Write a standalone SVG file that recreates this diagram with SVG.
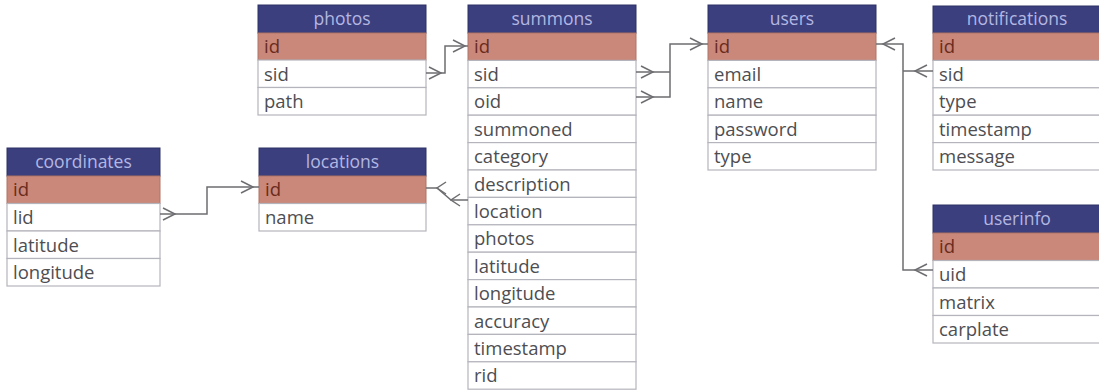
<svg xmlns="http://www.w3.org/2000/svg" width="1099" height="391" viewBox="0 0 1099 391">
<style>
.hd{fill:#3b3f7e;stroke:#2e3266;stroke-width:1}
.pk{fill:#c9887a;stroke:#b07466;stroke-width:1}
.rw{fill:#ffffff;stroke:#b4b4bc;stroke-width:1.2}
.ht{font-family:"Open Sans","Noto Sans",sans-serif;font-size:17.5px;fill:#b3b7e2;text-anchor:middle}
.pt{font-family:"Open Sans","Noto Sans",sans-serif;font-size:18.5px;fill:#6b2c20}
.ft{font-family:"Open Sans","Noto Sans",sans-serif;font-size:18.5px;fill:#4e4e52}
.cn{fill:none;stroke:#6e6e72;stroke-width:1.5}
</style>
<rect width="1099" height="391" fill="#ffffff"/>

<g id="photos">
<rect class="hd" x="258" y="5" width="168" height="28"/>
<text class="ht" x="342" y="25">photos</text>
<rect class="pk" x="258" y="33" width="168" height="27"/>
<text class="pt" x="264" y="53">id</text>
<rect class="rw" x="258" y="60" width="168" height="27.5"/>
<text class="ft" x="264" y="80.5">sid</text>
<rect class="rw" x="258" y="87.5" width="168" height="27.5"/>
<text class="ft" x="264" y="108">path</text>
</g>

<g id="summons">
<rect class="hd" x="468" y="5" width="168" height="28"/>
<text class="ht" x="552" y="25">summons</text>
<rect class="pk" x="468" y="33" width="168" height="27.4"/>
<text class="pt" x="474" y="53">id</text>
<rect class="rw" x="468" y="60.4" width="168" height="27.4"/>
<text class="ft" x="474" y="80.9">sid</text>
<rect class="rw" x="468" y="87.8" width="168" height="27.4"/>
<text class="ft" x="474" y="108.3">oid</text>
<rect class="rw" x="468" y="115.2" width="168" height="27.4"/>
<text class="ft" x="474" y="135.7">summoned</text>
<rect class="rw" x="468" y="142.6" width="168" height="27.4"/>
<text class="ft" x="474" y="163.1">category</text>
<rect class="rw" x="468" y="170" width="168" height="27.4"/>
<text class="ft" x="474" y="190.5">description</text>
<rect class="rw" x="468" y="197.4" width="168" height="27.4"/>
<text class="ft" x="474" y="217.9">location</text>
<rect class="rw" x="468" y="224.8" width="168" height="27.4"/>
<text class="ft" x="474" y="245.3">photos</text>
<rect class="rw" x="468" y="252.2" width="168" height="27.4"/>
<text class="ft" x="474" y="272.7">latitude</text>
<rect class="rw" x="468" y="279.6" width="168" height="27.4"/>
<text class="ft" x="474" y="300.1">longitude</text>
<rect class="rw" x="468" y="307" width="168" height="27.4"/>
<text class="ft" x="474" y="327.5">accuracy</text>
<rect class="rw" x="468" y="334.4" width="168" height="27.4"/>
<text class="ft" x="474" y="354.9">timestamp</text>
<rect class="rw" x="468" y="361.8" width="168" height="27.4"/>
<text class="ft" x="474" y="382.3">rid</text>
</g>

<g id="users">
<rect class="hd" x="708" y="5" width="168" height="28"/>
<text class="ht" x="792" y="25">users</text>
<rect class="pk" x="708" y="33" width="168" height="27.4"/>
<text class="pt" x="714" y="53">id</text>
<rect class="rw" x="708" y="60.4" width="168" height="27.4"/>
<text class="ft" x="714" y="80.9">email</text>
<rect class="rw" x="708" y="87.8" width="168" height="27.4"/>
<text class="ft" x="714" y="108.3">name</text>
<rect class="rw" x="708" y="115.2" width="168" height="27.4"/>
<text class="ft" x="714" y="135.7">password</text>
<rect class="rw" x="708" y="142.6" width="168" height="27.4"/>
<text class="ft" x="714" y="163.1">type</text>
</g>

<g id="notifications">
<rect class="hd" x="933" y="6" width="168" height="27"/>
<text class="ht" x="1017" y="25">notifications</text>
<rect class="pk" x="933" y="33" width="168" height="27.4"/>
<text class="pt" x="939" y="53">id</text>
<rect class="rw" x="933" y="60.4" width="168" height="27.4"/>
<text class="ft" x="939" y="80.9">sid</text>
<rect class="rw" x="933" y="87.8" width="168" height="27.4"/>
<text class="ft" x="939" y="108.3">type</text>
<rect class="rw" x="933" y="115.2" width="168" height="27.4"/>
<text class="ft" x="939" y="135.7">timestamp</text>
<rect class="rw" x="933" y="142.6" width="168" height="27.4"/>
<text class="ft" x="939" y="163.1">message</text>
</g>

<g id="coordinates">
<rect class="hd" x="7" y="148" width="153" height="28"/>
<text class="ht" x="83.5" y="168">coordinates</text>
<rect class="pk" x="7" y="176" width="153" height="27.5"/>
<text class="pt" x="13" y="196">id</text>
<rect class="rw" x="7" y="203.5" width="153" height="27.5"/>
<text class="ft" x="13" y="224">lid</text>
<rect class="rw" x="7" y="231" width="153" height="27.5"/>
<text class="ft" x="13" y="251.5">latitude</text>
<rect class="rw" x="7" y="258.5" width="153" height="27.5"/>
<text class="ft" x="13" y="279">longitude</text>
</g>

<g id="locations">
<rect class="hd" x="259" y="148" width="167" height="28"/>
<text class="ht" x="342.5" y="168">locations</text>
<rect class="pk" x="259" y="176" width="167" height="27.5"/>
<text class="pt" x="265" y="196">id</text>
<rect class="rw" x="259" y="203.5" width="167" height="27.5"/>
<text class="ft" x="265" y="224">name</text>
</g>

<g id="userinfo">
<rect class="hd" x="933" y="205" width="168" height="28"/>
<text class="ht" x="1017" y="225">userinfo</text>
<rect class="pk" x="933" y="233" width="168" height="27.5"/>
<text class="pt" x="939" y="253">id</text>
<rect class="rw" x="933" y="260.5" width="168" height="27.5"/>
<text class="ft" x="939" y="281">uid</text>
<rect class="rw" x="933" y="288" width="168" height="27.5"/>
<text class="ft" x="939" y="308.5">matrix</text>
<rect class="rw" x="933" y="315.5" width="168" height="27.5"/>
<text class="ft" x="939" y="336">carplate</text>
</g>

<g id="connectors">
<path class="cn" d="M426,73 H445 V46 H468"/>
<path class="cn" d="M429,67 L441,73 L429,79"/>
<path class="cn" d="M453,40 L465,46 L453,52"/>
<path class="cn" d="M636,72 H670 M636,97 H670 V44 H708"/>
<path class="cn" d="M641,66 L653,72 L641,78"/>
<path class="cn" d="M641,91 L653,97 L641,103"/>
<path class="cn" d="M690,38 L702,44 L690,50"/>
<path class="cn" d="M876,44 H903 V270 H933 M903,71 H933"/>
<path class="cn" d="M895,38 L883,44 L895,50"/>
<path class="cn" d="M927,65 L915,71 L927,77"/>
<path class="cn" d="M927,264 L915,270 L927,276"/>
<path class="cn" d="M160,214 H207 V187 H259"/>
<path class="cn" d="M163,208 L175,214 L163,220"/>
<path class="cn" d="M241,181 L253,187 L241,193"/>
<path class="cn" d="M426,188 H437 L451,200 H468"/>
<path class="cn" d="M446,182 L437,188 L446,194"/>
<path class="cn" d="M460,194 L451,200 L460,206"/>
</g>
</svg>
